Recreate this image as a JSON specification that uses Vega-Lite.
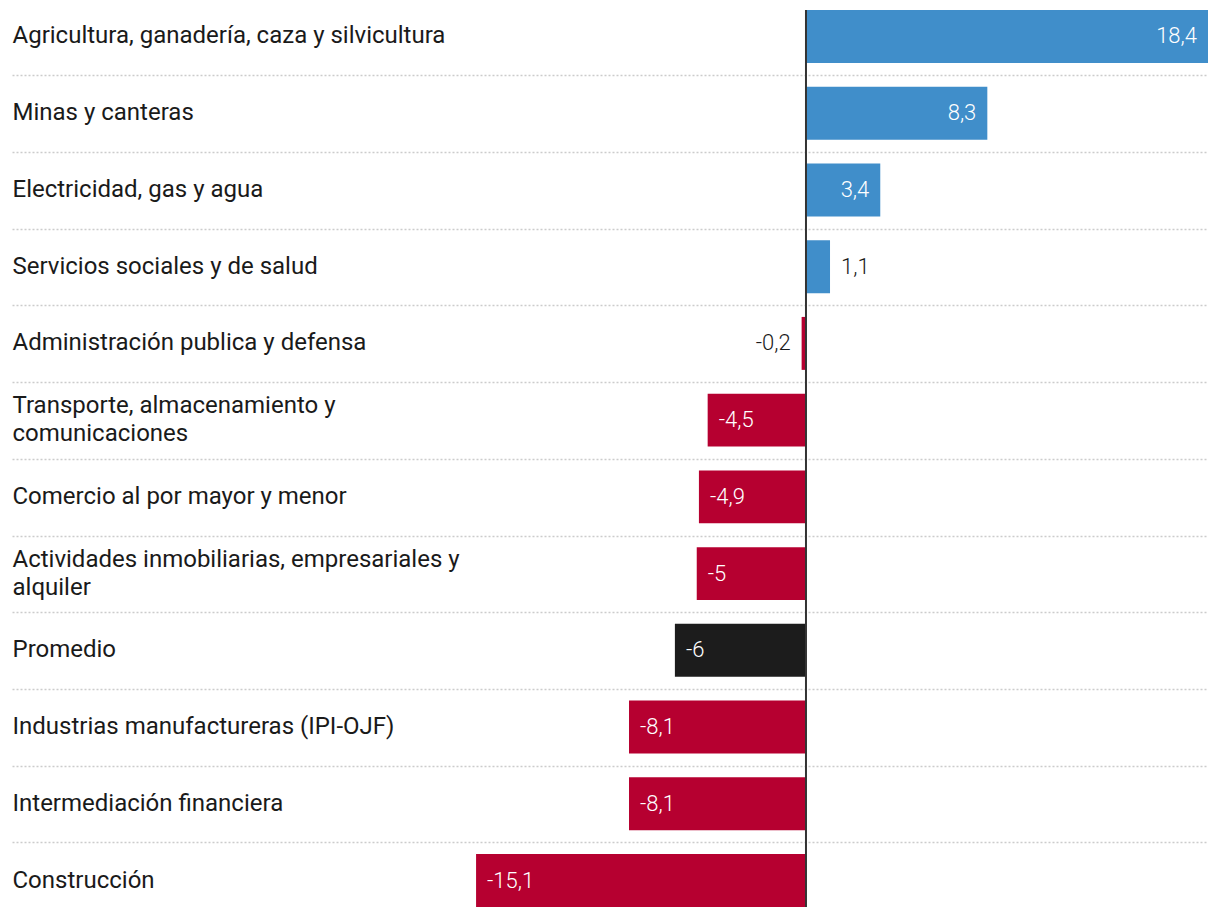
{
  "$schema": "https://vega.github.io/schema/vega-lite/v6.json",
  "width": 1196,
  "height": 897,
  "autosize": "none",
  "padding": {"left": 12, "right": 12, "top": 10, "bottom": 11},
  "background": "#ffffff",
  "config": {"view": {"stroke": null}},
  "data": {
    "values": [
      {"sector": "Agricultura, ganadería, caza y silvicultura", "valor": 18.4, "texto": "18,4", "grupo": "pos"},
      {"sector": "Minas y canteras", "valor": 8.3, "texto": "8,3", "grupo": "pos"},
      {"sector": "Electricidad, gas y agua", "valor": 3.4, "texto": "3,4", "grupo": "pos"},
      {"sector": "Servicios sociales y de salud", "valor": 1.1, "texto": "1,1", "grupo": "pos"},
      {"sector": "Administración publica y defensa", "valor": -0.2, "texto": "-0,2", "grupo": "neg"},
      {"sector": "Transporte, almacenamiento y|comunicaciones", "valor": -4.5, "texto": "-4,5", "grupo": "neg"},
      {"sector": "Comercio al por mayor y menor", "valor": -4.9, "texto": "-4,9", "grupo": "neg"},
      {"sector": "Actividades inmobiliarias, empresariales y|alquiler", "valor": -5, "texto": "-5", "grupo": "neg"},
      {"sector": "Promedio", "valor": -6, "texto": "-6", "grupo": "prom"},
      {"sector": "Industrias manufactureras (IPI-OJF)", "valor": -8.1, "texto": "-8,1", "grupo": "neg"},
      {"sector": "Intermediación financiera", "valor": -8.1, "texto": "-8,1", "grupo": "neg"},
      {"sector": "Construcción", "valor": -15.1, "texto": "-15,1", "grupo": "neg"}
    ]
  },
  "layer": [
    {
      "mark": {"type": "bar"},
      "encoding": {
        "y": {
          "field": "sector", "type": "nominal", "sort": null,
          "scale": {"paddingInner": 0.31, "paddingOuter": 0},
          "axis": {
            "title": null, "domain": false, "ticks": false, "tickSize": 0,
            "labelPadding": 0, "labelAlign": "left", "labelBaseline": "middle",
            "labelFont": "Roboto", "labelFontSize": 24, "labelFontWeight": 400,
            "labelColor": "#1a1a1a", "labelLimit": 0, "labelLineHeight": 28,
            "labelOffset": {"condition": {"test": "indexof(datum.value, '|') >= 0", "value": -14}, "value": 0},
            "labelExpr": "split(datum.label, '|')", "labelOverlap": false, "labelBound": false,
            "grid": true, "gridDash": [2, 2], "gridColor": "#cccccc", "gridWidth": 1.5,
            "bandPosition": -0.21
          }
        },
        "x": {
          "field": "valor", "type": "quantitative",
          "scale": {"domain": [-36.34, 18.4], "nice": false, "zero": true},
          "axis": null
        },
        "color": {
          "field": "grupo", "type": "nominal",
          "scale": {"domain": ["pos", "neg", "prom"], "range": ["#408eca", "#b60030", "#1c1c1c"]},
          "legend": null
        }
      }
    },
    {
      "transform": [{"filter": "datum.valor >= 3"}],
      "mark": {"type": "text", "align": "right", "baseline": "middle", "dx": -11, "font": "Roboto", "fontSize": 22, "fontWeight": 300, "color": "#ffffff"},
      "encoding": {
        "y": {"field": "sector", "type": "nominal", "sort": null},
        "x": {"field": "valor", "type": "quantitative"},
        "text": {"field": "texto"}
      }
    },
    {
      "transform": [{"filter": "datum.valor <= -3"}],
      "mark": {"type": "text", "align": "left", "baseline": "middle", "dx": 11, "font": "Roboto", "fontSize": 22, "fontWeight": 300, "color": "#ffffff"},
      "encoding": {
        "y": {"field": "sector", "type": "nominal", "sort": null},
        "x": {"field": "valor", "type": "quantitative"},
        "text": {"field": "texto"}
      }
    },
    {
      "transform": [{"filter": "datum.valor > 0 && datum.valor < 3"}],
      "mark": {"type": "text", "align": "left", "baseline": "middle", "dx": 11, "font": "Roboto", "fontSize": 22, "fontWeight": 300, "color": "#1a1a1a"},
      "encoding": {
        "y": {"field": "sector", "type": "nominal", "sort": null},
        "x": {"field": "valor", "type": "quantitative"},
        "text": {"field": "texto"}
      }
    },
    {
      "transform": [{"filter": "datum.valor < 0 && datum.valor > -3"}],
      "mark": {"type": "text", "align": "right", "baseline": "middle", "dx": -11, "font": "Roboto", "fontSize": 22, "fontWeight": 300, "color": "#1a1a1a"},
      "encoding": {
        "y": {"field": "sector", "type": "nominal", "sort": null},
        "x": {"field": "valor", "type": "quantitative"},
        "text": {"field": "texto"}
      }
    },
    {
      "data": {"values": [{"cero": 0}]},
      "mark": {"type": "rule", "color": "#333333", "strokeWidth": 2},
      "encoding": {
        "x": {"field": "cero", "type": "quantitative"}
      }
    }
  ]
}
